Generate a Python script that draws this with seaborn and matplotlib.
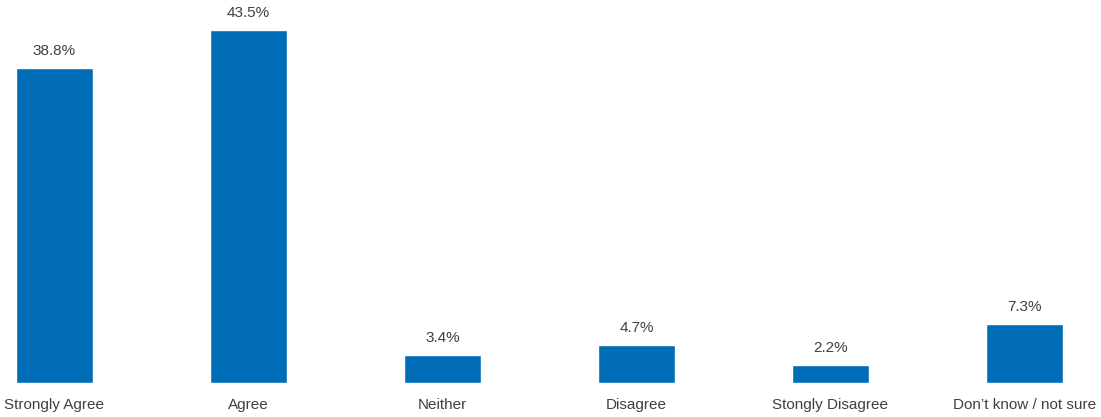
import matplotlib
matplotlib.use("Agg")
import matplotlib.pyplot as plt
import seaborn as sns
import pandas as pd

categories = ["Strongly Agree", "Agree", "Neither", "Disagree", "Stongly Disagree", "Don\u2019t know / not sure"]
values = [38.8, 43.5, 3.4, 4.7, 2.2, 7.3]

sns.set_theme(style="white")
plt.rcParams['font.family'] = ['Liberation Sans', 'DejaVu Sans']

df = pd.DataFrame({"cat": categories, "val": values})

W, H = 1101, 417
fig = plt.figure(figsize=(W / 100, H / 100), dpi=100)
ax = fig.add_axes([0, 34 / H, 1, 383 / H])
sns.barplot(data=df, x="cat", y="val", color="#006DB6", saturation=1, width=0.4, ax=ax)

ax.set_xlim(-54.5 / 194, (W - 54.5) / 194)
ax.set_ylim(0, 383 / 8.115)
for s in ax.spines.values():
    s.set_visible(False)
ax.set_yticks([])
ax.set_xlabel("")
ax.set_ylabel("")
ax.tick_params(axis="x", length=0, pad=10.8, labelsize=11, labelcolor="#404040")

for i, v in enumerate(values):
    ax.annotate(f"{v}%", (i, v), xytext=(0, 9.5), textcoords="offset points",
                ha="center", va="baseline", fontsize=11, color="#404040")

fig.savefig("out.png", dpi=100)
